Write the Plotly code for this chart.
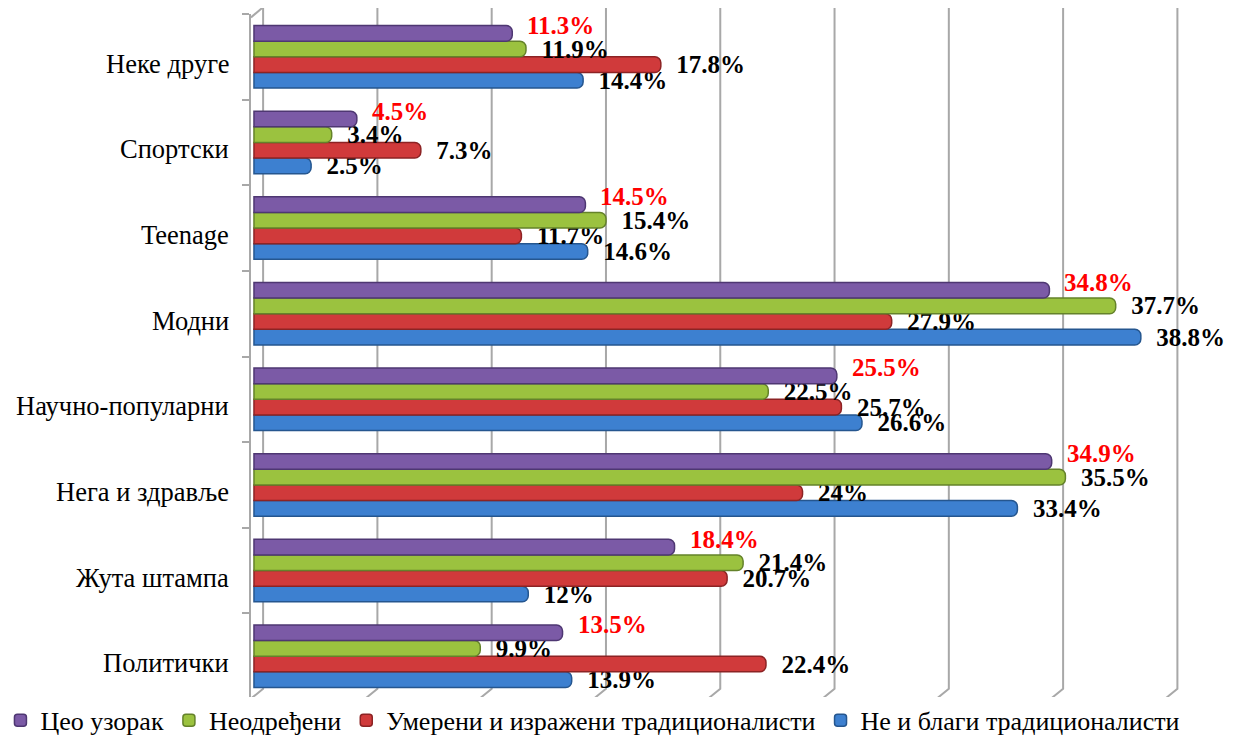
import plotly.graph_objects as go

categories = ["Политички", "Жута штампа", "Нега и здравље", "Научно-популарни",
              "Модни", "Teenage", "Спортски", "Неке друге"]

series_names = ["Не и благи традиционалисти", "Умерени и изражени традиционалисти",
                "Неодређени", "Цео узорак"]

ne_blagi = [13.9, 12, 33.4, 26.6, 38.8, 14.6, 2.5, 14.4]
umereni = [22.4, 20.7, 24, 25.7, 27.9, 11.7, 7.3, 17.8]
neodredjeni = [9.9, 21.4, 35.5, 22.5, 37.7, 15.4, 3.4, 11.9]
ceo_uzorak = [13.5, 18.4, 34.9, 25.5, 34.8, 14.5, 4.5, 11.3]

values = [ne_blagi, umereni, neodredjeni, ceo_uzorak]
colors = ["#3D80D0", "#D03A3B", "#9BC23F", "#7B5AA6"]
edge = ["#25568F", "#8C2324", "#64822A", "#4E3772"]
label_colors = ["black", "black", "black", "#FF0000"]

grid_ticks = [0, 5, 10, 15, 20, 25, 30, 35, 40]

SERIF = "Liberation Serif, Times New Roman, serif"

# layout geometry (styling)
W, H = 1233, 738
M_L, M_R, M_T, M_B = 243, 30, 6, 47
BARGAP = 0.27
plot_h = H - M_T - M_B
bar_px = plot_h / len(categories) * (1 - BARGAP) / len(series_names)

fig = go.Figure()
for i, (name, vals, c, e, lc) in enumerate(zip(series_names, values, colors,
                                                 edge, label_colors)):
    lab_font = dict(family=SERIF, size=25, color=lc, weight="bold")
    is_top = (i == len(series_names) - 1)
    fig.add_trace(go.Bar(
        y=categories, x=vals, name=name, orientation="h",
        marker=dict(color=c, line=dict(color=e, width=1.5), cornerradius=6),
        text=None if is_top else [f"\u00a0\u00a0{v:g}%" for v in vals],
        textposition="outside", constraintext="none", cliponaxis=False,
        textfont=lab_font, outsidetextfont=lab_font,
    ))

annotations = []
# whole-sample labels: placed a little above their bars, as in the original
top_offset = 1.5 * bar_px + 8
for cat, v in zip(categories, ceo_uzorak):
    annotations.append(dict(
        x=v, y=cat, xref="x", yref="y", xanchor="left", yanchor="middle",
        xshift=13, yshift=top_offset, showarrow=False, text=f"{v:g}%",
        font=dict(family=SERIF, size=25, color="#FF0000", weight="bold")))

# category labels (drawn slightly below the bar groups, as in the 3D original)
for cat in categories:
    annotations.append(dict(
        x=0, xref="paper", xanchor="right", xshift=-20,
        y=cat, yref="y", yanchor="middle", yshift=-7,
        text=cat, showarrow=False,
        font=dict(family=SERIF, size=26.5, color="black")))

shapes = []
for g in grid_ticks:
    shapes.append(dict(
        type="path", xref="x", yref="paper",
        path=f"M {g + 0.4} 1.01 L {g + 0.4} 0.015 L {g - 0.15} 0",
        line=dict(color="#A8A8A8", width=2), layer="below"))
# left wall top slant
shapes.append(dict(type="path", xref="x", yref="paper",
                   path="M -0.13 0.995 L 0.4 1.01",
                   line=dict(color="#A8A8A8", width=2), layer="below"))

fig.update_layout(
    width=W, height=H,
    barmode="group", bargap=BARGAP, bargroupgap=0.0,
    plot_bgcolor="white", paper_bgcolor="white",
    margin=dict(l=M_L, r=M_R, t=M_T, b=M_B, autoexpand=False),
    font=dict(family=SERIF, size=25, color="black"),
    xaxis=dict(range=[-0.13, 41.87], showgrid=False, zeroline=False,
               showticklabels=False, ticks=""),
    yaxis=dict(categoryorder="array", categoryarray=categories,
               showline=True, linecolor="#A8A8A8", linewidth=2,
               ticks="outside", tickson="boundaries", ticklen=7,
               tickcolor="#A8A8A8", tickwidth=2,
               showticklabels=False,
               showgrid=False, range=[-0.5, 7.5]),
    legend=dict(orientation="h", traceorder="reversed",
                x=-0.261, xanchor="left", y=-0.031, yanchor="middle",
                font=dict(family=SERIF, size=26, color="black"),
                itemwidth=30, tracegroupgap=0),
    shapes=shapes,
    annotations=annotations,
    showlegend=True,
)

fig.write_html("out.html")
